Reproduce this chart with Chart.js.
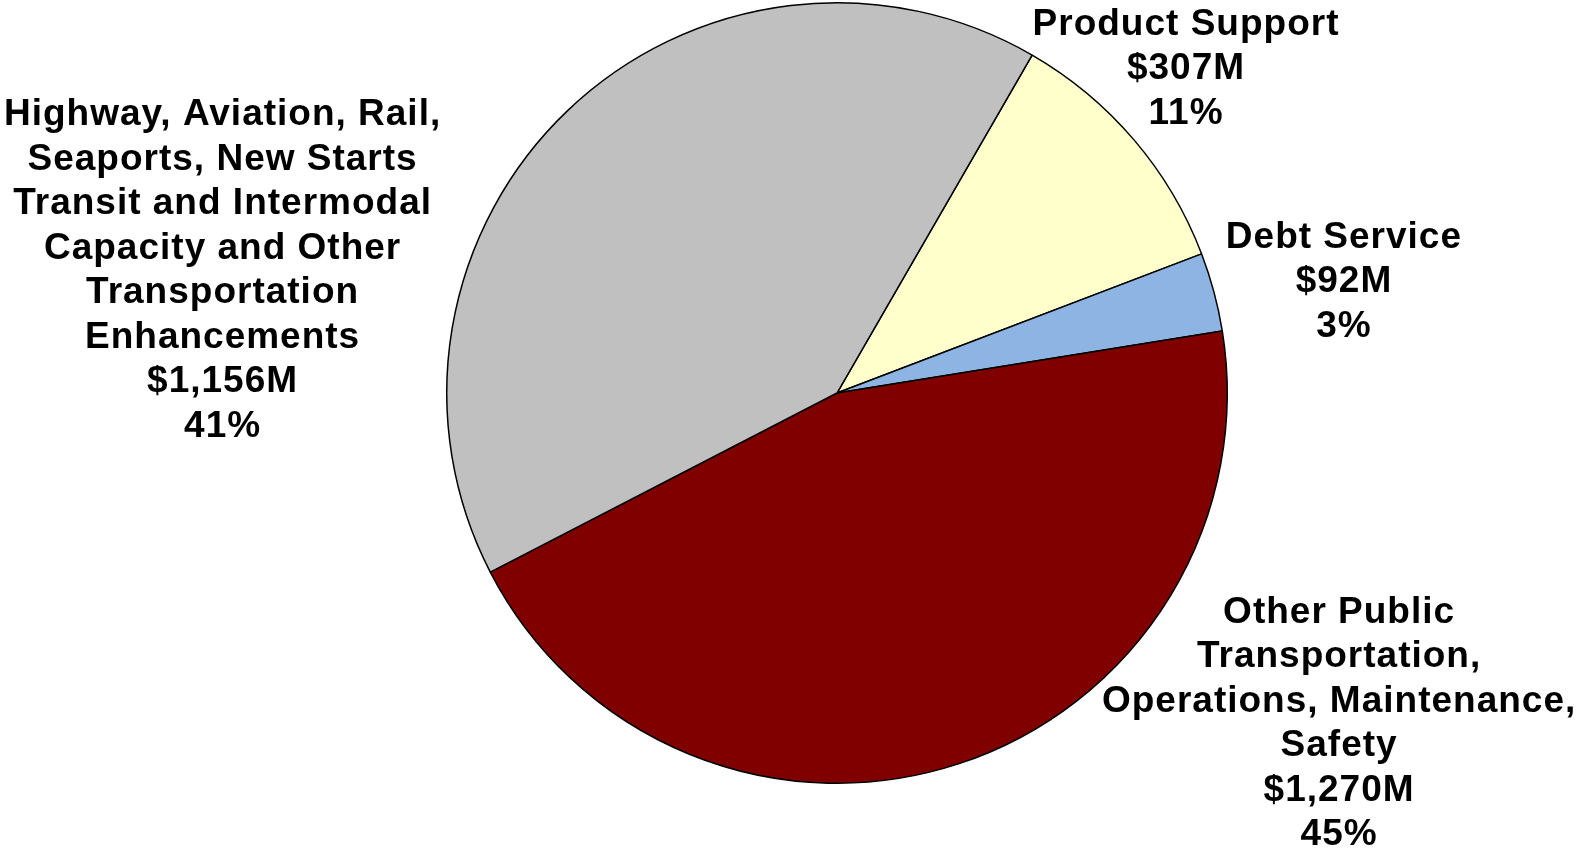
<!DOCTYPE html>
<html>
<head>
<meta charset="utf-8">
<script src="https://cdn.jsdelivr.net/npm/chart.js@4"></script>
<style>
  html, body { margin: 0; padding: 0; background: #fff; }
  #wrap { width: 1577px; height: 850px; }
</style>
</head>
<body>
<div id="wrap"><canvas id="pie"></canvas></div>
<script>
// chart data
var categories = [
    'Product Support',
    'Debt Service',
    'Other Public Transportation, Operations, Maintenance, Safety',
    'Highway, Aviation, Rail, Seaports, New Starts Transit and Intermodal Capacity and Other Transportation Enhancements'
];
var amounts = [307, 92, 1270, 1156];          // $ millions
var amountLabels = ['$307M', '$92M', '$1,270M', '$1,156M'];
var percentLabels = ['11%', '3%', '45%', '41%'];

// how the category text is broken into lines, as on the original
var labelLines = [
    ['Product Support'],
    ['Debt Service'],
    ['Other Public', 'Transportation,', 'Operations, Maintenance,', 'Safety'],
    ['Highway, Aviation, Rail,', 'Seaports, New Starts', 'Transit and Intermodal', 'Capacity and Other', 'Transportation', 'Enhancements']
];

var sliceColors = ['#FFFFCC', '#8EB4E3', '#800000', '#C0C0C0'];

// label placement, offset from the middle of each slice's outer edge
var labelOffsets = [
    {dx: 52, dy: -71},
    {dx: 130, dy: -10},
    {dx: 380, dy: -40},
    {dx: -345, dy: 160}
];
var lineHeight = 44.5;

var sliceLabels = {
    id: 'sliceLabels',
    afterDraw: function (chart) {
        var ctx = chart.ctx;
        var arcs = chart.getDatasetMeta(0).data;
        ctx.save();
        ctx.font = 'bold 37px "Liberation Sans", Arial, sans-serif';
        ctx.letterSpacing = '1px';
        ctx.fillStyle = '#000';
        ctx.textAlign = 'center';
        ctx.textBaseline = 'middle';
        for (var i = 0; i < arcs.length; i++) {
            var p = arcs[i].getProps(['x', 'y', 'startAngle', 'endAngle', 'outerRadius'], true);
            var mid = (p.startAngle + p.endAngle) / 2;
            var ax = p.x + Math.cos(mid) * p.outerRadius + labelOffsets[i].dx;
            var ay = p.y + Math.sin(mid) * p.outerRadius + labelOffsets[i].dy;
            var lines = labelLines[i].concat([amountLabels[i], percentLabels[i]]);
            var top = ay - (lines.length - 1) * lineHeight / 2;
            for (var j = 0; j < lines.length; j++) {
                ctx.fillText(lines[j], ax, top + j * lineHeight);
            }
        }
        ctx.restore();
    }
};

new Chart(document.getElementById('pie').getContext('2d'), {
    type: 'pie',
    data: {
        labels: categories,
        datasets: [{
            data: amounts,
            backgroundColor: sliceColors,
            borderColor: '#000',
            borderWidth: 1.5
        }]
    },
    options: {
        responsive: true,
        maintainAspectRatio: false,
        animation: false,
        rotation: 30,
        layout: {padding: {left: 446, right: 349, top: 2, bottom: 66}},
        plugins: {legend: {display: false}, tooltip: {enabled: false}}
    },
    plugins: [sliceLabels]
});
</script>
</body>
</html>
